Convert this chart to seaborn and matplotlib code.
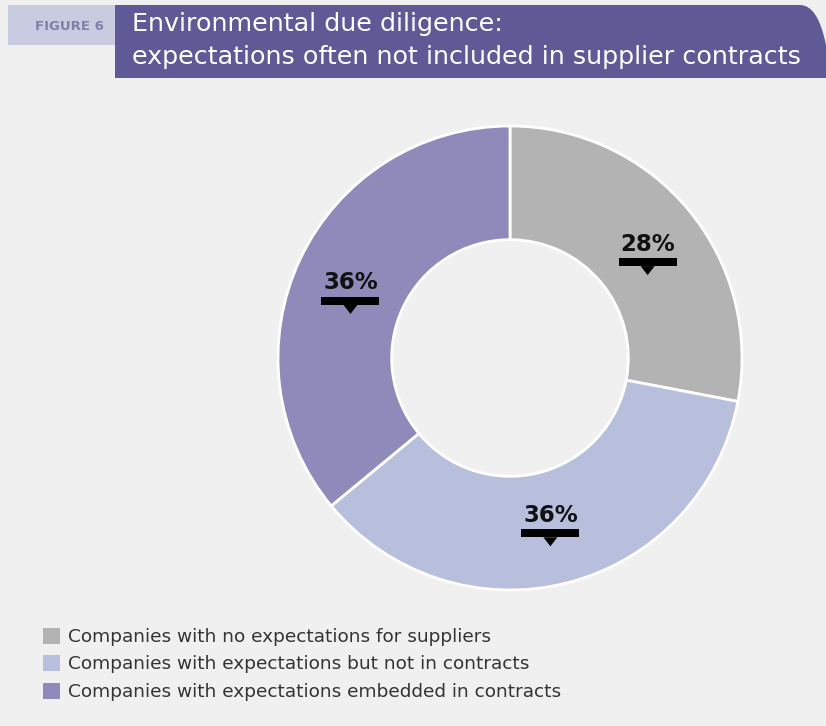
import numpy as np
import matplotlib
matplotlib.use("Agg")
import matplotlib.pyplot as plt
import seaborn as sns
from matplotlib.patches import Patch, Rectangle, Polygon, PathPatch
from matplotlib.path import Path

categories = [
    "Companies with no expectations for suppliers",
    "Companies with expectations but not in contracts",
    "Companies with expectations embedded in contracts",
]
shares = [28, 36, 36]
share_labels = ["28%", "36%", "36%"]
title_lines = ["Environmental due diligence:", "expectations often not included in supplier contracts"]
figure_tag = "FIGURE 6"

colors = ["#b3b3b3", "#b7bfdd", "#8f8ab9"]
header_color = "#5f5a95"
bg = "#f0f0f0"
label_r = [0.77, 0.70, 0.76]

sns.set_theme(style="white")
plt.rcParams["font.family"] = ["DejaVu Sans"]

W, H = 826, 726
fig = plt.figure(figsize=(W / 100, H / 100), dpi=100, facecolor=bg)

# background axes in pixel coords for the header
bga = fig.add_axes([0, 0, 1, 1], zorder=0)
bga.set_xlim(0, W)
bga.set_ylim(H, 0)
bga.axis("off")

bga.add_patch(Rectangle((8, 5), 107, 40, color="#c9cce1", lw=0))
bga.text(69, 26, figure_tag, ha="center", va="center", fontsize=9.5,
         weight="bold", color="#7d81a8")

verts = [(115, 5), (800, 5), (818, 5), (826, 45), (826, 78), (115, 78), (115, 5)]
codes = [Path.MOVETO, Path.LINETO, Path.CURVE3, Path.CURVE3, Path.LINETO, Path.LINETO, Path.CLOSEPOLY]
bga.add_patch(PathPatch(Path(verts, codes), facecolor=header_color, lw=0))
bga.text(132, 24, title_lines[0], ha="left", va="center", fontsize=18.3, color="white")
bga.text(132, 57, title_lines[1], ha="left", va="center", fontsize=18.3, color="white")

# donut
cx, cy, R = 510, 358, 232
ax = fig.add_axes([(cx - R) / W, (H - cy - R) / H, 2 * R / W, 2 * R / H], zorder=1)
ax.set_facecolor("none")
wedges, _ = ax.pie(shares, colors=colors, startangle=90, counterclock=False,
                   radius=1, wedgeprops=dict(width=0.49, edgecolor="white", linewidth=2))
ax.set_xlim(-1, 1)
ax.set_ylim(-1, 1)
ax.axis("off")

px = 1 / R
for w, lab, r in zip(wedges, share_labels, label_r):
    ang = np.deg2rad((w.theta1 + w.theta2) / 2)
    x, y = r * np.cos(ang), r * np.sin(ang)
    ax.text(x, y, lab, ha="center", va="center", fontsize=16.5, weight="bold", color="#111111")
    ax.add_patch(Rectangle((x - 29 * px, y - 22 * px), 58 * px, 8 * px, color="black", lw=0))
    ax.add_patch(Polygon([(x - 7 * px, y - 22 * px), (x + 7 * px, y - 22 * px), (x, y - 31 * px)],
                         color="black", lw=0))

handles = [Patch(facecolor=c, edgecolor="none") for c in colors]
leg = fig.legend(handles, categories, loc="upper left", bbox_to_anchor=(26 / W, 1 - 611 / H),
                 frameon=False, fontsize=13.3, handlelength=0.95, handleheight=0.95,
                 handletextpad=0.42, labelspacing=0.5)
for t in leg.get_texts():
    t.set_color("#333333")

fig.savefig("out.png", dpi=100, facecolor=bg)
